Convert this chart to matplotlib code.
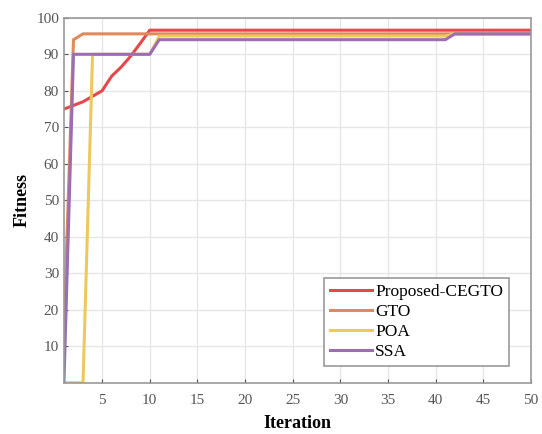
import matplotlib
matplotlib.use('Agg')
import matplotlib.pyplot as plt

iterations = list(range(1, 51))

proposed = [75, 76, 77, 78.5, 80, 84, 86.5, 89.5, 93] + [96.6] * 41
gto = [15, 94, 95.6] + [95.6] * 47
poa = [0, 0, 0, 90, 90, 90, 90, 90, 90, 90] + [95.0] * 31 + [95.6] * 9
ssa = [0] + [90] * 9 + [94.0] * 31 + [95.6] * 9

labels = ['Proposed-CEGTO', 'GTO', 'POA', 'SSA']
colors = ['#e8474a', '#e08a5c', '#ecc95c', '#9c6db2']

plt.rcParams['font.family'] = ['Liberation Serif', 'DejaVu Serif']

fig = plt.figure(figsize=(5.42, 4.34), dpi=100)
ax = fig.add_axes([0.118, 0.118, 0.862, 0.841])

for ys, lab, c in zip([proposed, gto, poa, ssa], labels, colors):
    ax.plot(iterations, ys, color=c, linewidth=2.2, label=lab)

ax.set_xlim(1, 50)
ax.set_ylim(0, 100)
ax.set_xticks(range(5, 51, 5))
ax.set_yticks(range(10, 101, 10))
ax.tick_params(labelsize=11, colors='#555555', direction='in', length=3)
ax.tick_params(axis='x', pad=8)
ax.grid(True, color='#e6e6e6', linewidth=1)
for s in ax.spines.values():
    s.set_color('#999999')
    s.set_linewidth(1.2)

ax.set_xlabel('Iteration', fontsize=13, fontweight='bold', labelpad=6)
ax.set_ylabel('Fitness', fontsize=13, fontweight='bold', labelpad=4)

leg = ax.legend(loc='lower right', bbox_to_anchor=(0.953, 0.045), fontsize=12.5,
                fancybox=False, framealpha=1, edgecolor='#999999',
                handlelength=2.4, handletextpad=0.2, labelspacing=0.22,
                borderpad=0.35, borderaxespad=0)
leg.get_frame().set_linewidth(1.2)

fig.savefig('out.png', dpi=100)
